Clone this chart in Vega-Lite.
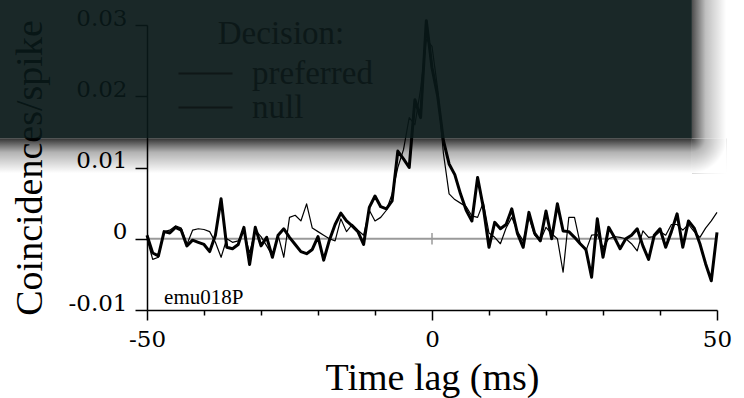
{
  "$schema": "https://vega.github.io/schema/vega-lite/v6.json",
  "width": 570,
  "height": 285,
  "autosize": {"type": "none"},
  "padding": {"left": 147, "top": 25, "right": 27, "bottom": 88},
  "background": "white",
  "config": {
    "font": "Liberation Serif",
    "view": {"stroke": null},
    "axis": {"grid": false, "zindex": 0, "domainColor": "black", "tickColor": "black", "labelColor": "black", "titleColor": "black", "labelFont": "DejaVu Serif", "titleFont": "Liberation Serif", "titleFontWeight": "normal", "domainWidth": 1.5, "tickWidth": 1.5}
  },
  "datasets": {
    "cc": [
      {"t":-50,"s":"preferred","v":0.0005},{"t":-49,"s":"preferred","v":-0.002},{"t":-48,"s":"preferred","v":-0.0024},{"t":-47,"s":"preferred","v":0.001},{"t":-46,"s":"preferred","v":0.0008},{"t":-45,"s":"preferred","v":0.0016},{"t":-44,"s":"preferred","v":0.0012},{"t":-43,"s":"preferred","v":-0.001},{"t":-42,"s":"preferred","v":-0.0002},{"t":-41,"s":"preferred","v":-0.0005},{"t":-40,"s":"preferred","v":-0.0008},{"t":-39,"s":"preferred","v":-0.0018},{"t":-38,"s":"preferred","v":0.0005},{"t":-37,"s":"preferred","v":0.0056},{"t":-36,"s":"preferred","v":-0.0012},{"t":-35,"s":"preferred","v":-0.0014},{"t":-34,"s":"preferred","v":-0.0008},{"t":-33,"s":"preferred","v":0.0016},{"t":-32,"s":"preferred","v":-0.0036},{"t":-31,"s":"preferred","v":0.0016},{"t":-30,"s":"preferred","v":-0.001},{"t":-29,"s":"preferred","v":0.0002},{"t":-28,"s":"preferred","v":-0.0026},{"t":-27,"s":"preferred","v":0.0005},{"t":-26,"s":"preferred","v":0.0014},{"t":-25,"s":"preferred","v":0.0002},{"t":-24,"s":"preferred","v":-0.0008},{"t":-23,"s":"preferred","v":-0.0018},{"t":-22,"s":"preferred","v":-0.0021},{"t":-21,"s":"preferred","v":-0.0015},{"t":-20,"s":"preferred","v":0.0003},{"t":-19,"s":"preferred","v":-0.003},{"t":-18,"s":"preferred","v":-0.0002},{"t":-17,"s":"preferred","v":0.002},{"t":-16,"s":"preferred","v":0.0036},{"t":-15,"s":"preferred","v":0.0025},{"t":-14,"s":"preferred","v":0.0018},{"t":-13,"s":"preferred","v":0.001},{"t":-12,"s":"preferred","v":-0.0008},{"t":-11,"s":"preferred","v":0.0044},{"t":-10,"s":"preferred","v":0.006},{"t":-9,"s":"preferred","v":0.0045},{"t":-8,"s":"preferred","v":0.0042},{"t":-7,"s":"preferred","v":0.0053},{"t":-6,"s":"preferred","v":0.0123},{"t":-5,"s":"preferred","v":0.0112},{"t":-4,"s":"preferred","v":0.01},{"t":-3,"s":"preferred","v":0.0195},{"t":-2,"s":"preferred","v":0.017},{"t":-1,"s":"preferred","v":0.0306},{"t":0,"s":"preferred","v":0.024},{"t":1,"s":"preferred","v":0.02},{"t":2,"s":"preferred","v":0.0138},{"t":3,"s":"preferred","v":0.0105},{"t":4,"s":"preferred","v":0.009},{"t":5,"s":"preferred","v":0.0063},{"t":6,"s":"preferred","v":0.004},{"t":7,"s":"preferred","v":0.0025},{"t":8,"s":"preferred","v":0.0086},{"t":9,"s":"preferred","v":0.0044},{"t":10,"s":"preferred","v":-0.0012},{"t":11,"s":"preferred","v":0.0023},{"t":12,"s":"preferred","v":0.0014},{"t":13,"s":"preferred","v":0.002},{"t":14,"s":"preferred","v":0.0042},{"t":15,"s":"preferred","v":0.0007},{"t":16,"s":"preferred","v":-0.0012},{"t":17,"s":"preferred","v":0.0037},{"t":18,"s":"preferred","v":0.0008},{"t":19,"s":"preferred","v":-0.0003},{"t":20,"s":"preferred","v":0.0039},{"t":21,"s":"preferred","v":0.0},{"t":22,"s":"preferred","v":0.0049},{"t":23,"s":"preferred","v":0.0011},{"t":24,"s":"preferred","v":0.001},{"t":25,"s":"preferred","v":0.0002},{"t":26,"s":"preferred","v":-0.0007},{"t":27,"s":"preferred","v":-0.0015},{"t":28,"s":"preferred","v":-0.0054},{"t":29,"s":"preferred","v":0.0028},{"t":30,"s":"preferred","v":-0.0026},{"t":31,"s":"preferred","v":0.0016},{"t":32,"s":"preferred","v":0.0002},{"t":33,"s":"preferred","v":-0.0014},{"t":34,"s":"preferred","v":0.0},{"t":35,"s":"preferred","v":0.0005},{"t":36,"s":"preferred","v":0.0014},{"t":37,"s":"preferred","v":-0.001},{"t":38,"s":"preferred","v":-0.0029},{"t":39,"s":"preferred","v":0.0005},{"t":40,"s":"preferred","v":0.0014},{"t":41,"s":"preferred","v":-0.0012},{"t":42,"s":"preferred","v":0.001},{"t":43,"s":"preferred","v":0.0035},{"t":44,"s":"preferred","v":-0.0012},{"t":45,"s":"preferred","v":0.0025},{"t":46,"s":"preferred","v":0.0015},{"t":47,"s":"preferred","v":-0.0007},{"t":48,"s":"preferred","v":-0.0035},{"t":49,"s":"preferred","v":-0.0059},{"t":50,"s":"preferred","v":0.0009},
      {"t":-50,"s":"null","v":0.0},{"t":-49,"s":"null","v":-0.0029},{"t":-48,"s":"null","v":-0.0026},{"t":-47,"s":"null","v":0.001},{"t":-46,"s":"null","v":0.0012},{"t":-45,"s":"null","v":0.0018},{"t":-44,"s":"null","v":0.0015},{"t":-43,"s":"null","v":-0.0008},{"t":-42,"s":"null","v":0.0012},{"t":-41,"s":"null","v":0.0014},{"t":-40,"s":"null","v":0.0013},{"t":-39,"s":"null","v":0.001},{"t":-38,"s":"null","v":-0.0005},{"t":-37,"s":"null","v":-0.0026},{"t":-36,"s":"null","v":0.0},{"t":-35,"s":"null","v":-0.0005},{"t":-34,"s":"null","v":-0.0003},{"t":-33,"s":"null","v":0.001},{"t":-32,"s":"null","v":-0.002},{"t":-31,"s":"null","v":0.0012},{"t":-30,"s":"null","v":0.0003},{"t":-29,"s":"null","v":-0.001},{"t":-28,"s":"null","v":-0.0024},{"t":-27,"s":"null","v":0.0005},{"t":-26,"s":"null","v":-0.0026},{"t":-25,"s":"null","v":0.003},{"t":-24,"s":"null","v":0.0033},{"t":-23,"s":"null","v":0.0025},{"t":-22,"s":"null","v":0.0049},{"t":-21,"s":"null","v":0.0015},{"t":-20,"s":"null","v":0.001},{"t":-19,"s":"null","v":0.0005},{"t":-18,"s":"null","v":0.0},{"t":-17,"s":"null","v":-0.0003},{"t":-16,"s":"null","v":0.0028},{"t":-15,"s":"null","v":0.001},{"t":-14,"s":"null","v":0.002},{"t":-13,"s":"null","v":0.0012},{"t":-12,"s":"null","v":0.0005},{"t":-11,"s":"null","v":0.004},{"t":-10,"s":"null","v":0.0025},{"t":-9,"s":"null","v":0.003},{"t":-8,"s":"null","v":0.004},{"t":-7,"s":"null","v":0.0063},{"t":-6,"s":"null","v":0.01},{"t":-5,"s":"null","v":0.0125},{"t":-4,"s":"null","v":0.017},{"t":-3,"s":"null","v":0.016},{"t":-2,"s":"null","v":0.021},{"t":-1,"s":"null","v":0.028},{"t":0,"s":"null","v":0.027},{"t":1,"s":"null","v":0.021},{"t":2,"s":"null","v":0.012},{"t":3,"s":"null","v":0.0063},{"t":4,"s":"null","v":0.0055},{"t":5,"s":"null","v":0.005},{"t":6,"s":"null","v":0.0045},{"t":7,"s":"null","v":0.0032},{"t":8,"s":"null","v":0.003},{"t":9,"s":"null","v":0.0051},{"t":10,"s":"null","v":0.0008},{"t":11,"s":"null","v":0.0002},{"t":12,"s":"null","v":-0.0007},{"t":13,"s":"null","v":0.0015},{"t":14,"s":"null","v":0.003},{"t":15,"s":"null","v":0.001},{"t":16,"s":"null","v":-0.0003},{"t":17,"s":"null","v":0.003},{"t":18,"s":"null","v":0.0005},{"t":19,"s":"null","v":-0.0003},{"t":20,"s":"null","v":0.0016},{"t":21,"s":"null","v":0.0007},{"t":22,"s":"null","v":0.0},{"t":23,"s":"null","v":-0.0047},{"t":24,"s":"null","v":0.003},{"t":25,"s":"null","v":0.003},{"t":26,"s":"null","v":-0.0007},{"t":27,"s":"null","v":-0.0017},{"t":28,"s":"null","v":0.0005},{"t":29,"s":"null","v":0.0006},{"t":30,"s":"null","v":-0.0012},{"t":31,"s":"null","v":0.0},{"t":32,"s":"null","v":0.0003},{"t":33,"s":"null","v":0.0002},{"t":34,"s":"null","v":0.0},{"t":35,"s":"null","v":-0.0007},{"t":36,"s":"null","v":-0.0017},{"t":37,"s":"null","v":0.0011},{"t":38,"s":"null","v":0.0002},{"t":39,"s":"null","v":0.0003},{"t":40,"s":"null","v":0.001},{"t":41,"s":"null","v":0.0005},{"t":42,"s":"null","v":0.002},{"t":43,"s":"null","v":0.002},{"t":44,"s":"null","v":0.0012},{"t":45,"s":"null","v":0.002},{"t":46,"s":"null","v":0.001},{"t":47,"s":"null","v":0.0002},{"t":48,"s":"null","v":0.0015},{"t":49,"s":"null","v":0.0025},{"t":50,"s":"null","v":0.0037}
    ]
  },
  "layer": [
    {
      "data": {"values": [{}]},
      "mark": {"type": "rule", "color": "#9a9a9a", "strokeWidth": 2},
      "encoding": {
        "x": {"datum": -50, "type": "quantitative", "scale": {"domain": [-50, 50], "nice": false}},
        "x2": {"datum": 50},
        "y": {"datum": 0, "type": "quantitative", "scale": {"domain": [-0.01, 0.03], "nice": false}}
      }
    },
    {
      "data": {"values": [{}]},
      "mark": {"type": "rule", "color": "#9a9a9a", "strokeWidth": 1.5},
      "encoding": {
        "x": {"datum": 0, "type": "quantitative", "scale": {"domain": [-50, 50], "nice": false}},
        "y": {"datum": -0.0008, "type": "quantitative", "scale": {"domain": [-0.01, 0.03], "nice": false}},
        "y2": {"datum": 0.0008}
      }
    },
    {
      "data": {"name": "cc"},
      "mark": {"type": "line", "strokeJoin": "round"},
      "encoding": {
        "x": {"field": "t", "type": "quantitative", "title": "Time lag (ms)", "scale": {"domain": [-50, 50], "nice": false},
          "axis": {"zindex": 0, "values": [-50,-45,-40,-35,-30,-25,-20,-15,-10,-5,0,5,10,15,20,25,30,35,40,45,50], "labelExpr": "datum.value % 25 === 0 ? '' + datum.value : ''", "tickSize": {"condition": {"test": "datum.value % 25 === 0", "value": 10}, "value": 5}, "labelFontSize": 23, "labelPadding": 8, "titleFontSize": 38, "titlePadding": 8, "labelFlush": false}},
        "y": {"field": "v", "type": "quantitative", "title": "Coincidences/spike", "scale": {"domain": [-0.01, 0.03], "nice": false},
          "axis": {"zindex": 0, "values": [-0.01, 0, 0.01, 0.02, 0.03], "labelExpr": "'' + datum.value", "tickSize": 12, "labelFontSize": 23, "labelPadding": 8, "labelBaseline": "alphabetic", "titleFontSize": 38, "titlePadding": 19}},
        "color": {"field": "s", "type": "nominal", "scale": {"domain": ["preferred", "null"], "range": ["black", "black"]},
          "legend": {"orient": "none", "legendX": 42, "legendY": -7, "title": "Decision:", "titleFont": "Liberation Serif", "titleFontSize": 33, "titleFontWeight": "normal", "titleColor": "#0c1818", "titleAnchor": "middle", "titlePadding": 6, "labelFont": "Liberation Serif", "labelFontSize": 33, "labelColor": "#0c1818", "symbolType": "M-1.8,0H1.8", "symbolSize": 900, "symbolStrokeWidth": 2, "symbolOpacity": 0.4, "labelOffset": 30, "rowPadding": -13}},
        "strokeWidth": {"condition": {"test": "datum.s === 'preferred'", "value": 3}, "value": 1.2}
      }
    },
    {
      "data": {"values": [{}]},
      "mark": {"type": "text", "text": "emu018P", "align": "left", "baseline": "alphabetic", "fontSize": 21, "font": "Liberation Serif", "color": "black"},
      "encoding": {
        "x": {"datum": -47, "type": "quantitative", "scale": {"domain": [-50, 50], "nice": false}},
        "y": {"datum": -0.0092, "type": "quantitative", "scale": {"domain": [-0.01, 0.03], "nice": false}}
      }
    },
    {
      "data": {"values": [{}]},
      "mark": {"type": "rect", "fill": {"gradient": "linear", "x1": 0, "y1": 0, "x2": 0, "y2": 1, "stops": [{"offset": 0, "color": "rgba(0,0,0,0.8)"}, {"offset": 0.4, "color": "rgba(0,0,0,0.3)"}, {"offset": 1, "color": "rgba(0,0,0,0)"}]}},
      "encoding": {
        "x": {"datum": -76, "type": "quantitative", "scale": {"domain": [-50, 50], "nice": false}},
        "x2": {"datum": 45.6},
        "y": {"datum": 0.0141, "type": "quantitative", "scale": {"domain": [-0.01, 0.03], "nice": false}},
        "y2": {"datum": 0.0092}
      }
    },
    {
      "data": {"values": [{}]},
      "mark": {"type": "rect", "fill": {"gradient": "linear", "x1": 0, "y1": 0, "x2": 1, "y2": 0, "stops": [{"offset": 0, "color": "rgba(0,0,0,0.7)"}, {"offset": 0.4, "color": "rgba(0,0,0,0.25)"}, {"offset": 1, "color": "rgba(0,0,0,0)"}]}},
      "encoding": {
        "x": {"datum": 45.6, "type": "quantitative", "scale": {"domain": [-50, 50], "nice": false}},
        "x2": {"datum": 51.6},
        "y": {"datum": 0.04, "type": "quantitative", "scale": {"domain": [-0.01, 0.03], "nice": false}},
        "y2": {"datum": 0.0141}
      }
    },
    {
      "data": {"values": [{}]},
      "mark": {"type": "rect", "fill": {"gradient": "radial", "x1": 0, "y1": 0, "r1": 0, "x2": 0, "y2": 0, "r2": 1, "stops": [{"offset": 0, "color": "rgba(0,0,0,0.75)"}, {"offset": 0.4, "color": "rgba(0,0,0,0.28)"}, {"offset": 1, "color": "rgba(0,0,0,0)"}]}},
      "encoding": {
        "x": {"datum": 45.6, "type": "quantitative", "scale": {"domain": [-50, 50], "nice": false}},
        "x2": {"datum": 51.6},
        "y": {"datum": 0.0141, "type": "quantitative", "scale": {"domain": [-0.01, 0.03], "nice": false}},
        "y2": {"datum": 0.0092}
      }
    },
    {
      "data": {"values": [{}]},
      "mark": {"type": "rect", "fill": "#091818", "opacity": 0.93},
      "encoding": {
        "x": {"datum": -76, "type": "quantitative", "scale": {"domain": [-50, 50], "nice": false}},
        "x2": {"datum": 45.6},
        "y": {"datum": 0.0141, "type": "quantitative", "scale": {"domain": [-0.01, 0.03], "nice": false}},
        "y2": {"datum": 0.04}
      }
    }
  ]
}
